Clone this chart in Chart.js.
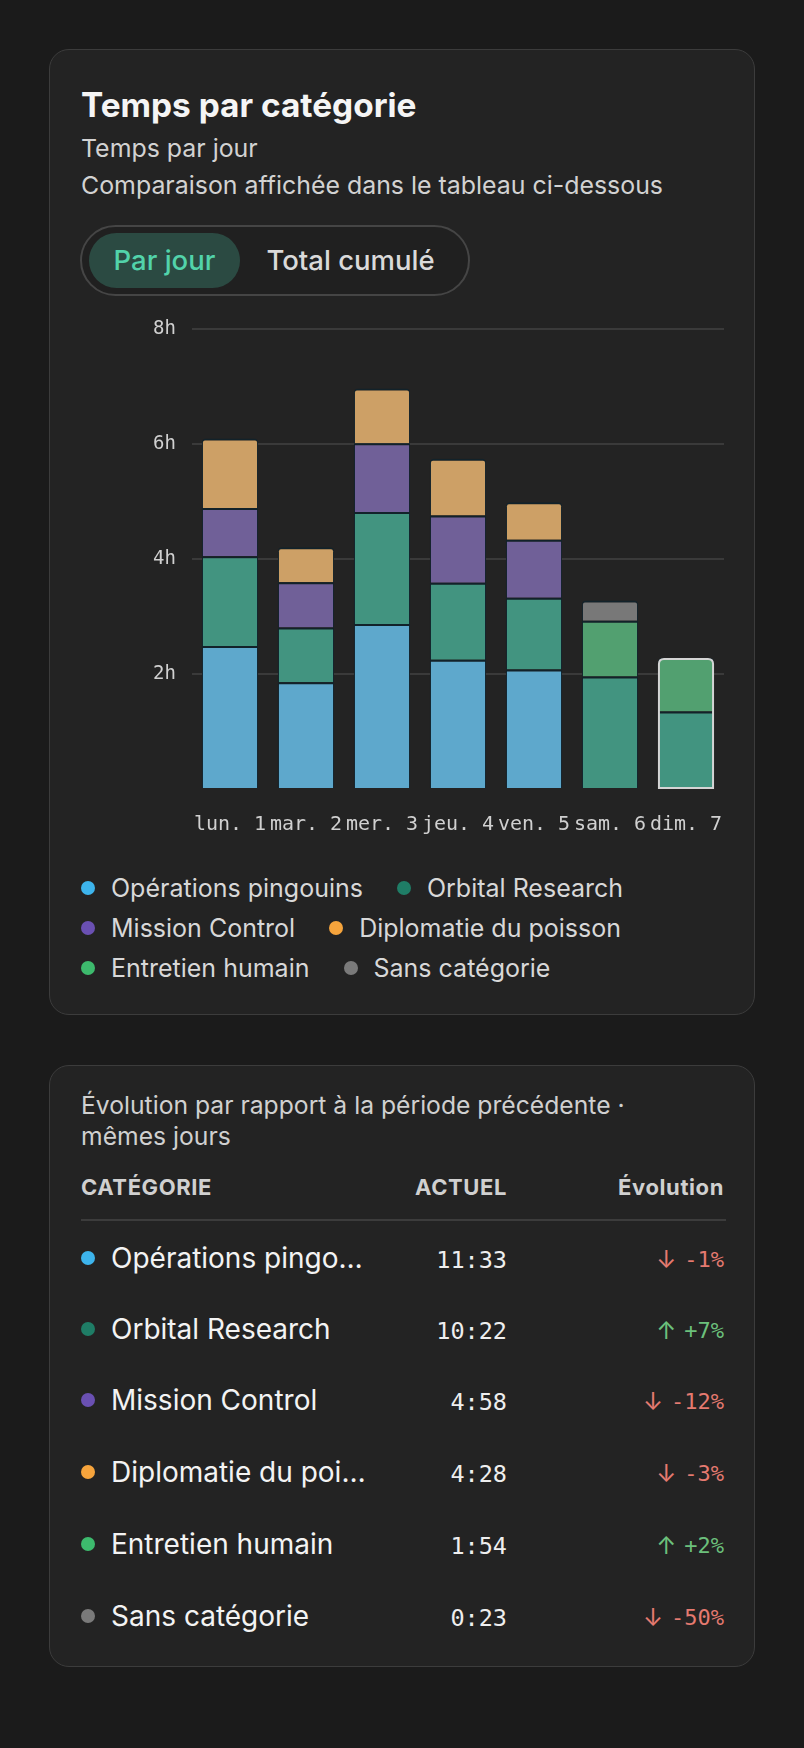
<!DOCTYPE html>
<html lang="fr">
<head>
<meta charset="utf-8">
<script src="https://cdn.jsdelivr.net/npm/chart.js@4.4.1/dist/chart.umd.min.js"></script>
<style>
  html, body { margin:0; padding:0; background:#1b1b1b; }
  body { width:804px; height:1748px; position:relative; font-family:Inter, "Noto Sans", sans-serif; color:#e6e6e6; }
  .card { position:absolute; left:49px; width:704px; background:#232323; border:1.5px solid #3c3c3c; border-radius:20px; }
  #c1 { top:49px; height:964px; }
  #c2 { top:1065px; height:600px; }
  .abs { position:absolute; white-space:nowrap; }
  .title { left:31px; top:35px; font-size:33.4px; font-weight:700; color:#f5f5f5; line-height:40px; }
  .sub { left:31px; font-size:24.9px; color:#d2d2d2; line-height:30px; }
  .toggle { left:30px; top:175px; width:386px; height:67px; border:2px solid #454545; border-radius:36px; background:#202020; }
  .pill { position:absolute; left:7px; top:6px; width:151px; height:55px; border-radius:28px; background:#2b4a42; }
  .tlabel { position:absolute; top:6px; line-height:55px; font-size:27.5px; font-weight:500; text-align:center; }
  #chartBox { position:absolute; left:0px; top:252px; width:704px; height:558px; }
  .legend { left:31px; font-size:25px; color:#d8d8d8; line-height:30px; display:flex; align-items:center; }
  .dot { display:inline-block; width:14px; height:14px; border-radius:50%; margin-right:16px; flex:none; }
  .item { display:flex; align-items:center; margin-right:34px; }
  .hdr { left:31px; font-size:24.7px; color:#d0d0d0; line-height:31px; }
  .colh { font-size:22px; font-weight:700; color:#d0d0d0; letter-spacing:0.6px; line-height:26px; }
  .divider { position:absolute; left:31px; width:645px; top:153px; height:2px; background:#3c3c3c; }
  .rname { left:31px; font-size:28px; color:#f3f3f3; display:flex; align-items:center; line-height:34px; }
  .rname .txt { display:inline-block; max-width:255px; overflow:hidden; text-overflow:ellipsis; white-space:nowrap; }
  .mono { font-family:"DejaVu Sans Mono", monospace; }
  .act { font-size:23.5px; color:#eeeeee; text-align:right; line-height:30px; }
  .evo { font-size:22px; text-align:right; line-height:30px; display:flex; align-items:center; }
  .arrow { font-family:Inter, "DejaVu Sans", sans-serif; font-size:24px; margin-right:8px; }
</style>
</head>
<body>
<div class="card" id="c1">
  <div class="abs title">Temps par catégorie</div>
  <div class="abs sub" style="top:83px">Temps par jour</div>
  <div class="abs sub" style="top:120px">Comparaison affichée dans le tableau ci-dessous</div>
  <div class="abs toggle">
    <div class="pill"></div>
    <div class="tlabel" style="left:7px;width:151px;color:#52d3aa">Par jour</div>
    <div class="tlabel" style="left:160px;width:217px;color:#dadada">Total cumulé</div>
  </div>
  <div id="chartBox"><canvas id="chart"></canvas></div>
  <div id="legend"></div>
</div>
<div class="card" id="c2">
  <div class="abs hdr" style="top:24px">Évolution par rapport à la période précédente ·</div>
  <div class="abs hdr" style="top:55px">mêmes jours</div>
  <div class="abs colh" style="left:31px;top:108px">CATÉGORIE</div>
  <div class="abs colh" style="right:247px;top:108px">ACTUEL</div>
  <div class="abs colh" style="right:30px;top:108px">Évolution</div>
  <div class="divider"></div>
  <div id="rows"></div>
</div>
<script>
// ---- Data ----
const days = ['lun. 1','mar. 2','mer. 3','jeu. 4','ven. 5','sam. 6','dim. 7'];
const categoryNames = ['Opérations pingouins','Orbital Research','Mission Control','Diplomatie du poisson','Entretien humain','Sans catégorie'];
const operationsPingouins = [2.49, 1.86, 2.87, 2.25, 2.08, null, null];
const orbitalResearch     = [1.56, 0.95, 1.95, 1.34, 1.25, 1.96, 1.35];
const missionControl      = [0.84, 0.79, 1.20, 1.17, 1.01, null, null];
const diplomatiePoisson   = [1.21, 0.61, 0.95, 0.99, 0.65, null, null];
const entretienHumain     = [null, null, null, null, null, 0.97, 0.93];
const sansCategorie       = [null, null, null, null, null, 0.35, null];
const yTicks = [0, 2, 4, 6, 8];
const tableNames   = ['Opérations pingouins','Orbital Research','Mission Control','Diplomatie du poisson','Entretien humain','Sans catégorie'];
const tableActuel  = ['11:33','10:22','4:58','4:28','1:54','0:23'];
const tableEvo     = [-1, 7, -12, -3, 2, -50];
const highlightDay = 6;

// ---- Styles ----
const barColors = ['#5ea8cc','#429480','#706098','#cda066','#52a070','#787878'];
const dotColors = ['#3db4ec','#1f7d66','#6a50b2','#f6a43c','#3dba6d','#7a7a7a'];
const seriesValues = [operationsPingouins, orbitalResearch, missionControl, diplomatiePoisson, entretienHumain, sansCategorie];

const highlightPlugin = {
  id: 'highlight',
  afterDatasetsDraw(chart) {
    const ctx = chart.ctx;
    let top = Infinity, base = -Infinity, x = 0, w = 0;
    chart.data.datasets.forEach((ds, i) => {
      const meta = chart.getDatasetMeta(i);
      const el = meta.data[highlightDay];
      if (!el || ds.data[highlightDay] == null) return;
      const p = el.getProps(['x','y','base','width'], true);
      top = Math.min(top, p.y); base = Math.max(base, p.base);
      x = p.x; w = p.width;
    });
    if (!isFinite(top)) return;
    const l = x - w/2 + 1, r = x + w/2 - 1, t = top + 1, b = base, rad = 5;
    ctx.save();
    ctx.strokeStyle = '#d4d4d4';
    ctx.lineWidth = 2;
    ctx.beginPath();
    ctx.moveTo(l, b);
    ctx.lineTo(l, t + rad);
    ctx.quadraticCurveTo(l, t, l + rad, t);
    ctx.lineTo(r - rad, t);
    ctx.quadraticCurveTo(r, t, r, t + rad);
    ctx.lineTo(r, b);
    ctx.closePath();
    ctx.stroke();
    ctx.restore();
  }
};

const datasets = categoryNames.map((name, i) => ({
  label: name,
  data: seriesValues[i],
  backgroundColor: barColors[i],
  borderColor: '#12222a',
  borderWidth: {top: 2, left: 1, right: 1, bottom: 0},
  borderSkipped: 'start',
  borderRadius: 4,
  barPercentage: 0.82,
  categoryPercentage: 0.9
}));

new Chart(document.getElementById('chart'), {
  type: 'bar',
  data: { labels: days, datasets },
  options: {
    responsive: true,
    maintainAspectRatio: false,
    animation: false,
    layout: { padding: { left: 0, right: 30, top: 17, bottom: 8 } },
    plugins: { legend: { display: false }, tooltip: { enabled: false } },
    scales: {
      x: {
        stacked: true,
        grid: { display: false },
        border: { display: false },
        ticks: { color: '#d0d0d0', font: { family: 'DejaVu Sans Mono', size: 20 }, padding: 15.5, maxRotation: 0, autoSkip: false }
      },
      y: {
        stacked: true,
        min: 0, max: 8,
        afterFit(scale) { scale.width = 142; },
        afterBuildTicks(scale) { scale.ticks = yTicks.map(v => ({ value: v })); },
        grid: { color: ctx => ctx.tick && ctx.tick.value === 0 ? 'rgba(0,0,0,0)' : '#3a3a3a', lineWidth: 2, drawTicks: false },
        border: { display: false },
        ticks: { color: '#d0d0d0', font: { family: 'DejaVu Sans Mono', size: 19 }, padding: 16,
          callback: v => v === 0 ? '' : v + 'h' }
      }
    }
  },
  plugins: [highlightPlugin]
});

// ---- Legend ----
const legend = document.getElementById('legend');
const legendRows = [[0,1],[2,3],[4,5]];
const legendTops = [823, 863, 903];
legendRows.forEach((row, r) => {
  const div = document.createElement('div');
  div.className = 'abs legend';
  div.style.top = legendTops[r] + 'px';
  row.forEach(i => {
    const it = document.createElement('span');
    it.className = 'item';
    it.innerHTML = '<span class="dot" style="background:' + dotColors[i] + '"></span>' + categoryNames[i];
    div.appendChild(it);
  });
  legend.appendChild(div);
});

// ---- Table ----
const rows = document.getElementById('rows');
const rowTops = [175, 246, 317, 389, 461, 533];
tableNames.forEach((name, i) => {
  const n = document.createElement('div');
  n.className = 'abs rname';
  n.style.top = rowTops[i] + 'px';
  n.innerHTML = '<span class="dot" style="background:' + dotColors[i] + '"></span><span class="txt">' + name + '</span>';
  rows.appendChild(n);
  const a = document.createElement('div');
  a.className = 'abs act mono';
  a.style.top = (rowTops[i] + 4) + 'px';
  a.style.right = '247px';
  a.textContent = tableActuel[i];
  rows.appendChild(a);
  const e = document.createElement('div');
  e.className = 'abs evo mono';
  e.style.top = (rowTops[i] + 4) + 'px';
  e.style.right = '30px';
  const up = tableEvo[i] > 0;
  e.style.color = up ? '#6cc07c' : '#e57a70';
  e.innerHTML = '<span class="arrow">' + (up ? '↑' : '↓') + '</span>' + (up ? '+' : '-') + Math.abs(tableEvo[i]) + '%';
  rows.appendChild(e);
});
</script>
</body>
</html>
